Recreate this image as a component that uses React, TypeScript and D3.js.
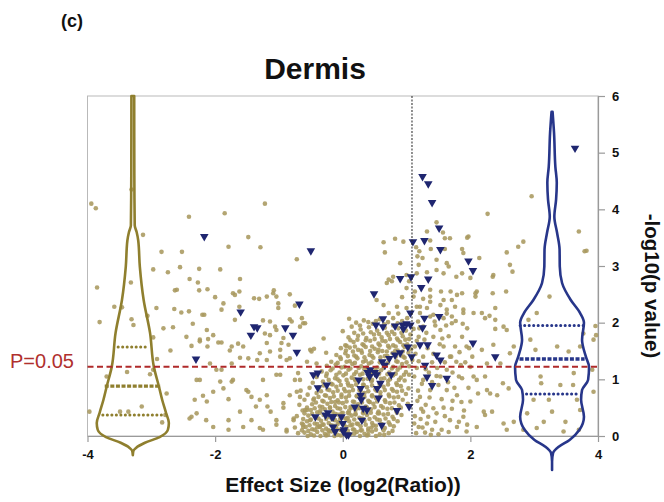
import React, { useRef, useEffect } from "react";
import * as d3 from "d3";

// axis ticks and reference lines
const X_TICKS = [-4, -2, 0, 2, 4];
const Y_TICKS = [0, 1, 2, 3, 4, 5, 6];
const P_LINE = 1.22; // -log10(0.05) as drawn
const FC_LINE = 1.085;

// non significant genes [log2 ratio, -log10 p]
const otherGenes: [number, number][] = [
  // sparse, left side
  [-3.94,4.10],[-3.87,4.02],[-3.31,4.35],[-3.13,3.55],[-2.84,3.25],[-2.52,3.25],[-2.41,3.87],[-1.85,3.93],[-1.22,4.10],
  [-1.48,3.51],[-1.79,3.34],[-1.29,3.33],[-0.72,3.12],[-2.97,2.94],[-2.74,2.89],[-2.55,2.98],[-2.25,2.95],[-1.92,2.94],
  [-2.40,2.77],[-1.61,2.77],[-3.85,2.62],[-3.32,2.71],[-2.63,2.57],[-3.58,2.28],[-3.46,2.27],[-3.81,2.01],[-3.31,2.06],
  [-3.28,1.96],[-3.06,2.12],[-2.92,2.26],[-2.64,2.24],[-2.81,1.90],[-2.66,1.92],[-2.97,1.74],[-2.70,1.51],[-2.91,1.36],
  [-3.38,1.13],[-3.02,1.09],[-3.70,1.05],[-2.76,0.75],[-3.97,0.43],[-3.15,0.52],[-2.78,0.37],[-2.83,0.24],[-3.49,0.43],
  [-3.36,0.43],[-2.60,2.58],[-2.53,2.18],[-2.97,1.17],[-2.25,2.57],[-2.20,2.14],[-2.35,1.98],[-2.24,1.70],[-2.13,1.87],
  [-1.95,1.65],[-1.90,1.17],[-2.29,0.99],[-2.19,0.71],[-2.37,0.34],[-2.29,0.40],[-1.72,2.52],[-1.62,2.28],[-1.69,2.05],
  [-1.74,1.58],[-1.61,1.38],[-1.72,0.99],[-1.51,0.81],[-1.79,0.65],[-1.36,0.52],[-2.03,0.16],[-1.56,0.16],[-1.30,0.14],
  [-1.09,2.52],[-1.01,2.34],[-0.83,2.06],[-1.06,1.93],[-0.93,1.73],[-0.98,1.52],[-1.19,1.34],[-0.88,1.34],[-1.25,0.99],
  [-1.04,1.08],[-1.19,0.72],[-0.93,0.58],[-1.04,0.28],[-0.88,0.08],[-0.67,0.99],[-0.72,0.78],[-0.56,0.46],[-0.64,0.22],
  [-0.77,0.28],[-0.62,1.99],[-0.51,1.52],[-0.41,1.28],
  [-2.27,2.71],[-2.12,2.59],[-2.00,2.45],[-1.87,2.34],[-1.69,2.49],[-1.62,2.55],[-1.39,2.43],[-1.31,2.42],[-1.19,2.46],
  [-1.08,2.57],[-1.04,2.46],[-1.01,2.26],[-0.83,2.50],[-0.75,2.30],[-2.41,2.20],[-2.17,2.14],[-1.90,2.23],[-1.25,2.04],
  [-1.14,2.02],[-0.80,2.02],[-0.64,2.08],[-0.59,1.99],
  [-2.45,1.75],[-2.03,1.78],[-2.11,1.71],[-2.24,1.67],[-1.90,1.65],[-2.37,1.59],[-2.12,1.58],[-1.77,1.51],[-1.64,1.63],
  [-1.56,1.58],[-1.22,1.81],[-1.14,1.78],[-1.04,1.87],[-1.19,1.64],[-0.96,1.64],[-0.85,1.61],[-0.67,1.93],[-1.30,1.46],
  [-1.14,1.49],[-1.48,1.37],[-1.34,1.34],[-0.98,1.40],[-0.83,1.37],[-1.98,1.17],[-2.08,1.28],[-1.74,1.28],[-2.24,0.99],
  [-1.92,0.96],[-1.74,0.96],[-1.48,0.78],[-1.43,0.69],[-2.03,0.78],[-1.87,0.84],[-2.32,0.64],[-2.13,0.61],[-1.30,0.64],
  [-1.18,0.52],[-1.61,0.43],[-2.40,0.31],[-2.14,0.28],[-1.79,0.28],[-1.43,0.28],[-1.13,0.43],[-1.04,0.20],[-0.93,0.50],
  [-0.83,0.72],[-0.75,0.99],[-0.70,1.11],[-0.98,1.08],[-0.56,1.31],[-0.49,1.49],[-0.67,0.69],[-0.59,0.46],[-0.77,0.31],
  [-0.62,0.16],[-0.88,0.11],[-1.79,0.11],[-1.25,0.11],[-0.46,0.64],[-0.51,0.28],[-0.36,0.16],
  // upper centre
  [0.64,3.42],[0.82,3.48],[0.95,3.43],[0.66,3.24],[1.15,3.33],[1.20,3.26],[1.25,3.14],[1.17,3.17],[1.32,3.61],[1.47,3.77],
  [1.57,3.59],[1.60,3.49],[1.68,3.49],[1.37,3.45],[1.38,3.30],[1.60,3.30],[1.47,3.11],[1.63,3.05],[1.66,2.99],[1.95,3.50],
  [1.87,3.30],[1.89,3.23],[0.90,3.05],[1.19,3.02],[1.32,2.89],[1.47,2.93],[1.58,2.87],[0.79,2.81],[0.72,2.76],[0.69,2.70],
  [0.77,2.73],[1.00,2.84],[1.16,2.87],[1.04,2.73],[1.00,2.61],[1.13,2.55],[1.37,2.58],[1.54,2.55],[1.69,2.55],[1.78,2.81],
  [1.87,2.87],[1.79,2.49],[2.00,2.79],[2.10,2.55],[2.08,2.46],[0.53,2.40],[0.64,2.31],[0.93,2.45],[1.11,2.46],[1.26,2.42],
  [1.37,2.37],[1.58,2.40],[0.85,2.28],[1.00,2.26],[1.16,2.28],[1.32,2.26],[1.53,2.31],[1.76,2.28],[1.89,2.23],[0.72,2.17],
  [0.87,2.16],[1.21,2.17],[1.42,2.14],[1.63,2.16],[2.05,2.17],[0.79,2.08],[1.58,2.08],[1.71,2.11],
  // right side
  [2.96,4.23],[2.27,3.92],[2.83,3.43],[2.75,3.34],[2.57,3.24],[2.62,3.02],[2.66,2.90],[3.70,3.61],[3.79,3.26],[3.82,3.27],
  [2.35,2.81],[2.14,3.14],[1.97,3.52],[2.36,2.84],[2.56,2.55],[2.35,2.52],[2.18,2.17],[2.23,2.08],[2.39,2.05],[2.39,1.89],
  [2.57,1.87],[2.36,1.61],[2.68,1.58],[2.62,1.46],[2.47,1.28],[2.26,1.28],[2.23,1.05],[2.51,0.93],[2.60,0.84],[2.31,0.75],
  [2.34,0.43],[2.23,0.37],[2.68,0.25],[2.57,0.11],[2.83,0.11],[2.91,2.05],[2.94,1.70],[3.02,1.52],[3.10,1.05],[3.11,0.93],
  [2.99,0.64],[3.23,0.64],[3.28,0.43],[2.89,0.40],[3.04,0.14],[3.46,0.08],[3.24,2.46],[3.36,1.58],[3.41,0.90],[3.62,1.11],
  [3.61,0.90],[3.54,1.49],[3.72,1.58],[3.77,1.81],[3.96,1.94],[3.67,0.64],[3.72,0.46],[3.49,0.25],[3.15,0.25],[3.70,0.11],
  [3.04,2.17],[3.93,0.78],[3.91,1.17],[3.93,1.70],[3.97,1.78],
  [2.08,2.52],[2.39,2.26],[2.52,1.93],[2.30,2.12],[1.89,2.17],[1.71,1.99],[1.87,1.75],[1.94,1.58],[2.18,1.52],[1.78,1.31],
  [2.00,1.22],[1.87,1.02],[2.10,0.99],[2.26,0.81],[2.42,0.72],[1.79,0.72],[2.00,0.61],[2.21,0.43],[1.89,0.34],[2.52,0.22],
  [2.10,0.16],[1.68,0.28],[1.55,0.11],[1.42,0.49],[1.32,0.22],[1.21,0.69],[1.37,0.81],[1.53,1.05],[1.63,1.17],[1.68,1.40],
  [1.58,1.58],[1.42,1.75],[1.53,1.87],[1.76,1.58],[1.63,0.81],[1.47,0.40],[1.26,0.43],[1.19,0.16],[1.40,0.11],[1.79,0.16],
  [1.94,0.08],[1.26,0.99],[1.16,1.20],[1.26,1.40],[1.13,1.58],[1.19,1.75],[1.26,1.93],[1.37,2.11],[1.63,2.23],[1.71,2.40],
  [1.87,2.52],[1.37,2.46],[1.21,2.28],
  [1.15,0.05],[1.22,0.30],[1.30,0.55],[1.18,0.80],[1.35,1.12],[1.14,1.45],[1.28,1.70],[1.45,1.95],[1.60,0.35],[1.72,0.62],
  [1.50,0.90],[1.85,1.25],[1.95,1.90],[1.66,1.76],[1.40,1.30],[1.25,0.15],[1.55,0.65],[1.90,0.45],[1.12,1.05],[1.33,1.55],
  [1.75,0.85],[1.48,1.20],[2.05,1.05],[1.82,0.25],[1.62,1.95],[1.20,1.90],[1.38,0.02],[2.12,0.75],[1.98,1.55],[1.70,1.40],
  [1.13,0.35],[1.17,0.62],[1.24,0.92],[1.19,1.32],[1.31,1.82],[1.44,2.02],[1.52,1.62],[1.36,0.68],[1.45,0.25],[1.58,0.50],
  [1.65,0.95],[1.72,1.12],[1.83,1.48],[1.92,1.30],[1.77,2.03],[1.29,0.06],[1.50,0.03],[1.66,0.07],[1.86,0.60],[1.97,0.85],
  [1.42,1.45],[1.56,1.72],[1.30,1.18],[1.16,1.68],[1.40,0.95],[1.12,0.22],[1.23,0.48],[1.34,0.34],[1.60,1.30],[1.47,1.06],
  [1.71,0.48],[1.82,1.05],[1.95,0.20],[2.03,1.40],[1.18,2.02],[1.88,1.98],
  // dense core
  [0.33,2.04],[0.47,1.98],[0.58,2.06],[0.71,2.01],[0.79,1.95],[0.93,2.03],[1.01,2.08],[0.21,2.00],[0.10,2.07],
  [0.28,1.88],[0.41,1.92],[0.54,1.86],[0.66,1.91],[0.77,1.84],[0.87,1.90],[0.99,1.86],[1.11,1.89],[0.14,1.93],[0.00,1.85],
  [0.24,1.77],[0.37,1.73],[0.49,1.79],[0.61,1.74],[0.72,1.78],[0.85,1.72],[0.94,1.76],[1.04,1.71],[0.09,1.74],[-0.30,1.72],
  [0.17,1.66],[0.31,1.62],[0.43,1.68],[0.56,1.63],[0.67,1.67],[0.79,1.60],[0.90,1.66],[1.01,1.62],[0.04,1.60],
  [0.11,1.56],[0.24,1.52],[0.36,1.57],[0.50,1.54],[0.62,1.50],[0.73,1.56],[0.86,1.51],[0.97,1.57],[1.07,1.53],[-0.03,1.55],[-0.45,1.54],
  [0.04,1.46],[0.18,1.42],[0.30,1.47],[0.42,1.43],[0.55,1.48],[0.66,1.41],[0.78,1.46],[0.91,1.42],[1.03,1.47],[-0.10,1.43],[-0.26,1.47],
  [-0.03,1.36],[0.11,1.32],[0.23,1.37],[0.36,1.33],[0.48,1.38],[0.60,1.31],[0.72,1.36],[0.84,1.32],[0.97,1.38],[1.09,1.34],[-0.18,1.31],
  [-0.11,1.26],[0.03,1.22],[0.15,1.27],[0.29,1.23],[0.41,1.28],[0.54,1.21],[0.67,1.26],[0.79,1.22],[0.93,1.27],[1.04,1.23],[-0.25,1.24],
  [-0.19,1.16],[-0.05,1.12],[0.09,1.17],[0.21,1.13],[0.34,1.18],[0.47,1.11],[0.60,1.16],[0.73,1.12],[0.86,1.17],[0.99,1.13],[-0.33,1.14],
  [-0.26,1.06],[-0.12,1.02],[0.01,1.07],[0.14,1.03],[0.27,1.08],[0.39,1.01],[0.53,1.06],[0.65,1.02],[0.79,1.07],[0.91,1.03],[1.04,1.08],[-0.41,1.04],
  [-0.31,0.96],[-0.18,0.92],[-0.05,0.97],[0.08,0.93],[0.20,0.98],[0.32,0.91],[0.45,0.96],[0.58,0.92],[0.71,0.97],[0.84,0.93],[0.97,0.98],[-0.47,0.94],
  [-0.37,0.86],[-0.24,0.82],[-0.10,0.87],[0.02,0.83],[0.14,0.88],[0.26,0.81],[0.38,0.86],[0.51,0.82],[0.64,0.87],[0.77,0.83],[0.91,0.88],[1.03,0.84],[-0.52,0.85],
  [-0.41,0.76],[-0.28,0.72],[-0.15,0.77],[-0.02,0.73],[0.10,0.78],[0.22,0.71],[0.34,0.76],[0.46,0.72],[0.59,0.77],[0.72,0.73],[0.85,0.78],[0.99,0.74],[-0.55,0.73],
  [-0.45,0.66],[-0.32,0.62],[-0.20,0.67],[-0.08,0.63],[0.05,0.68],[0.16,0.61],[0.28,0.66],[0.40,0.62],[0.52,0.67],[0.66,0.63],[0.80,0.68],[0.94,0.64],[-0.60,0.64],
  [-0.48,0.56],[-0.36,0.52],[-0.24,0.57],[-0.12,0.53],[0.00,0.58],[0.12,0.51],[0.24,0.56],[0.36,0.52],[0.48,0.57],[0.60,0.53],[0.74,0.58],[0.88,0.54],[1.02,0.57],
  [-0.50,0.46],[-0.40,0.42],[-0.28,0.47],[-0.16,0.43],[-0.04,0.48],[0.08,0.41],[0.20,0.46],[0.32,0.42],[0.44,0.47],[0.56,0.43],[0.70,0.48],[0.84,0.44],[-0.63,0.45],
  [-0.54,0.36],[-0.42,0.32],[-0.30,0.37],[-0.20,0.33],[-0.08,0.38],[0.04,0.31],[0.14,0.36],[0.26,0.32],[0.38,0.37],[0.50,0.33],[0.64,0.38],[0.78,0.34],[0.92,0.37],
  [-0.56,0.26],[-0.44,0.22],[-0.34,0.27],[-0.22,0.23],[-0.12,0.28],[0.00,0.21],[0.10,0.26],[0.22,0.22],[0.34,0.27],[0.46,0.23],[0.58,0.28],[0.72,0.24],[0.86,0.26],
  [-0.58,0.16],[-0.48,0.12],[-0.36,0.17],[-0.26,0.13],[-0.14,0.18],[-0.04,0.11],[0.06,0.16],[0.16,0.12],[0.28,0.17],[0.40,0.13],[0.52,0.18],[0.66,0.14],[0.80,0.17],
  [-0.60,0.06],[-0.50,0.03],[-0.40,0.07],[-0.28,0.04],[-0.18,0.08],[-0.08,0.02],[0.02,0.06],[0.12,0.03],[0.22,0.07],[0.34,0.04],[0.46,0.08],[0.58,0.03],[0.72,0.05],
  [-0.22,0.10],[-0.10,0.14],[0.03,0.09],[0.15,0.20],[-0.06,0.25],[0.08,0.32],[0.20,0.38],[-0.16,0.30],[0.30,0.10],[-0.32,0.20],[0.10,0.45],[-0.02,0.40],
  [0.25,0.50],[-0.12,0.60],[0.18,0.04],[-0.26,0.01],[0.40,0.02],[0.06,0.00],[-0.40,0.15],[0.32,0.30],[0.45,0.15],[0.55,0.40],[0.62,0.20],[0.42,0.60],
  [-0.35,0.45],[-0.20,0.50],
  // dense core, second pass
  [0.40,2.01],[0.52,2.03],[0.65,1.97],[0.86,1.99],[0.27,1.95],
  [0.32,1.81],[0.44,1.83],[0.57,1.80],[0.69,1.82],[0.81,1.80],[0.92,1.82],[1.06,1.79],[0.18,1.82],
  [0.23,1.70],[0.36,1.69],[0.50,1.71],[0.62,1.68],[0.74,1.71],[0.87,1.69],[0.98,1.70],[0.12,1.69],
  [0.06,1.59],[0.19,1.58],[0.33,1.60],[0.46,1.58],[0.58,1.60],[0.71,1.59],[0.83,1.58],[0.95,1.60],
  [0.05,1.51],[0.16,1.49],[0.29,1.51],[0.43,1.50],[0.56,1.52],[0.69,1.49],[0.82,1.50],[0.94,1.49],
  [-0.04,1.39],[0.08,1.41],[0.21,1.40],[0.34,1.39],[0.46,1.41],[0.59,1.39],[0.70,1.41],[0.83,1.40],[0.95,1.40],
  [-0.08,1.29],[0.06,1.31],[0.19,1.29],[0.32,1.31],[0.45,1.30],[0.58,1.30],[0.71,1.29],[0.86,1.31],[1.00,1.30],
  [-0.16,1.19],[-0.02,1.21],[0.12,1.19],[0.25,1.20],[0.38,1.21],[0.51,1.19],[0.64,1.20],[0.77,1.19],[0.90,1.21],
  [-0.25,1.10],[-0.10,1.08],[0.05,1.10],[0.18,1.09],[0.31,1.10],[0.44,1.08],[0.57,1.10],[0.70,1.09],[0.83,1.10],[0.96,1.08],
  [-0.22,0.99],[-0.08,1.00],[0.06,0.99],[0.19,1.00],[0.32,1.00],[0.46,0.99],[0.60,1.01],[0.74,1.00],[0.88,0.99],
  [-0.30,0.89],[-0.16,0.91],[-0.03,0.90],[0.09,0.89],[0.21,0.91],[0.33,0.90],[0.46,0.89],[0.58,0.90],[0.71,0.91],[0.85,0.90],
  [-0.34,0.79],[-0.21,0.81],[-0.08,0.80],[0.04,0.79],[0.16,0.81],[0.28,0.80],[0.40,0.79],[0.53,0.80],[0.66,0.81],[0.79,0.80],[0.93,0.80],
  [-0.38,0.69],[-0.26,0.71],[-0.14,0.70],[-0.02,0.69],[0.10,0.71],[0.22,0.70],[0.34,0.69],[0.46,0.70],[0.59,0.71],[0.73,0.70],[0.87,0.69],
  [-0.42,0.59],[-0.30,0.61],[-0.18,0.60],[-0.06,0.59],[0.06,0.61],[0.18,0.60],[0.30,0.59],[0.42,0.60],[0.54,0.61],[0.67,0.60],[0.81,0.59],
  [-0.56,0.50],[-0.44,0.49],[-0.32,0.51],[-0.20,0.50],[-0.08,0.49],[0.04,0.51],[0.14,0.50],[0.26,0.49],[0.38,0.50],[0.50,0.51],[0.63,0.50],[0.77,0.49],[0.91,0.50],
  [-0.60,0.40],[-0.48,0.39],[-0.36,0.41],[-0.24,0.40],[-0.12,0.39],[0.00,0.41],[0.10,0.40],[0.20,0.39],[0.32,0.40],[0.44,0.41],[0.57,0.40],[0.71,0.39],[0.85,0.41],
  [-0.62,0.30],[-0.50,0.29],[-0.38,0.31],[-0.26,0.30],[-0.16,0.29],[-0.04,0.31],[0.06,0.30],[0.18,0.29],[0.30,0.31],[0.42,0.30],[0.54,0.29],[0.67,0.31],[0.80,0.30],
  [-0.62,0.20],[-0.52,0.19],[-0.40,0.21],[-0.30,0.20],[-0.18,0.19],[-0.08,0.21],[0.02,0.20],[0.12,0.19],[0.24,0.21],[0.36,0.20],[0.48,0.19],[0.60,0.21],[0.74,0.20],
  [-0.64,0.10],[-0.54,0.09],[-0.44,0.11],[-0.32,0.10],[-0.22,0.09],[-0.12,0.11],[-0.02,0.10],[0.08,0.09],[0.18,0.11],[0.28,0.10],[0.40,0.09],[0.52,0.11],[0.64,0.10],[0.78,0.09],
  [-0.55,0.00],[-0.45,0.01],[-0.35,0.00],[-0.23,0.02],[-0.13,0.00],[-0.03,0.01],[0.07,0.03],[0.27,0.00],[0.38,0.01],[0.52,0.00],[0.65,0.02],
  [-0.70,0.05],[-0.72,0.35],[-0.68,0.55],[-0.75,0.15],[-0.66,0.80],
];

// significant genes (triangles)
const sigGenes: [number, number][] = [
  [-2.17,3.52],[-0.50,3.27],[1.25,4.58],[1.34,4.45],[1.40,4.12],[1.51,3.67],[1.10,3.43],[1.28,3.45],[1.53,3.29],[1.97,3.09],
  [2.04,2.92],[3.64,5.08],[0.90,2.78],[1.07,2.81],[1.34,2.77],[1.23,2.62],[0.49,2.51],[1.06,2.17],[1.28,2.08],[1.51,2.11],
  [0.63,2.07],[-0.68,2.33],[-1.60,2.19],[-1.39,1.93],[-1.34,1.91],[-0.90,1.91],[-1.44,1.78],[-0.78,1.78],[-0.72,1.48],[-2.30,1.36],
  [-0.46,1.08],[-0.39,1.11],[-0.39,0.85],[-0.25,0.90],[-0.43,0.34],[-0.27,0.37],[-0.23,0.41],[0.52,1.96],[0.63,1.93],[0.82,1.94],
  [0.94,1.96],[1.00,1.98],[1.06,1.96],[0.95,1.89],[1.25,1.91],[1.21,1.61],[1.33,1.61],[2.04,1.64],[1.47,1.43],[1.53,1.34],
  [1.02,1.57],[1.08,1.40],[0.90,1.47],[0.82,1.43],[0.73,1.37],[0.62,1.31],[0.66,1.25],[1.29,1.25],[0.43,1.17],[0.50,1.12],
  [0.39,1.12],[0.53,1.08],[0.76,1.08],[0.42,1.05],[1.32,1.04],[1.63,1.02],[0.25,0.99],[0.59,0.93],[1.40,0.89],[0.28,0.84],
  [0.54,0.84],[0.28,0.72],[0.29,0.64],[0.56,0.67],[0.32,0.49],[0.38,0.46],[0.19,0.51],[0.85,0.45],[1.04,0.52],[0.30,0.28],
  [0.61,0.19],[-0.15,0.34],[-0.02,0.34],[-0.12,0.08],[0.01,0.08],[0.06,0.02],[0.00,0.22],[-0.17,0.34],[0.02,0.11],[0.09,0.02],
  [-0.15,0.16],[2.39,1.40],
];

// violin outlines: [-log10 p, half width in log2 units]
const LEFT_CENTER = -3.29;
const leftProfile: [number, number][] = [
  [6.0,0.022],[4.6,0.024],[3.72,0.03],[3.6,0.06],[3.45,0.085],[2.99,0.11],[2.40,0.17],[1.82,0.27],[1.22,0.33],[0.87,0.41],
  [0.64,0.46],[0.41,0.52],[0.23,0.565],[0.11,0.55],[-0.02,0.42],[-0.12,0.19],[-0.21,0.05],[-0.26,0.01],[-0.34,0.0],
];
const leftQuartiles: [number, number][] = [[1.57,0.23],[0.88,0.44],[0.37,0.47]];

const RIGHT_CENTER = 3.28;
const rightProfile: [number, number][] = [
  [5.72,0.008],[5.35,0.031],[4.75,0.052],[4.47,0.074],[4.17,0.063],[3.87,0.036],[3.59,0.078],[3.29,0.118],[2.99,0.121],
  [2.70,0.157],[2.40,0.293],[2.17,0.44],[2.00,0.50],[1.70,0.47],[1.40,0.53],[1.22,0.58],[0.99,0.565],[0.81,0.47],
  [0.64,0.455],[0.34,0.50],[0.11,0.43],[-0.07,0.275],[-0.19,0.105],[-0.30,0.016],[-0.45,0.0],[-0.60,0.0],
];
const rightQuartiles: [number, number][] = [[1.95,0.50],[1.36,0.51],[0.74,0.40]];

const FONT = "'Liberation Sans', Arial, Helvetica, sans-serif";

function App() {
  const svgRef = useRef<SVGSVGElement>(null);

  useEffect(() => {
    const svg = d3.select(svgRef.current);
    svg.selectAll("*").remove();

    const x = d3.scaleLinear().domain([-4, 4]).range([87.5, 598]);
    const y = d3.scaleLinear().domain([0, 6]).range([436, 96]);

    svg.append("rect").attr("width", 664).attr("height", 502).attr("fill", "#fff");

    // frame
    svg.append("rect")
      .attr("x", x(-4)).attr("y", y(6))
      .attr("width", x(4) - x(-4)).attr("height", y(0) - y(6))
      .attr("fill", "none").attr("stroke", "#b9b9b9").attr("stroke-width", 1);

    const xAxis = d3.axisBottom(x).tickValues(X_TICKS).tickSizeInner(6).tickSizeOuter(0).tickPadding(8)
      .tickFormat((d) => String(d));
    const gx = svg.append("g").attr("transform", `translate(0,${y(0)})`).call(xAxis);

    const yAxis = d3.axisRight(y).tickValues(Y_TICKS).tickSizeInner(7).tickSizeOuter(0).tickPadding(7)
      .tickFormat((d) => String(d));
    const gy = svg.append("g").attr("transform", `translate(${x(4)},0)`).call(yAxis);

    [gx, gy].forEach((g) => {
      g.selectAll("path, line").attr("stroke", "#9a9a9a").attr("stroke-width", 1.2);
      g.selectAll("text").attr("font-family", FONT).attr("font-size", 13).attr("font-weight", "bold").attr("fill", "#111");
    });

    // points
    svg.append("g").selectAll("circle").data(otherGenes).join("circle")
      .attr("cx", (d) => x(d[0])).attr("cy", (d) => y(d[1])).attr("r", 2.3)
      .attr("fill", "#a8995e").attr("fill-opacity", 0.88);

    const tri = d3.symbol().type(d3.symbolTriangle).size(32);
    svg.append("g").selectAll("path").data(sigGenes).join("path")
      .attr("d", tri)
      .attr("transform", (d) => `translate(${x(d[0])},${y(d[1])}) rotate(180)`)
      .attr("fill", "#1f2670");

    // violins
    const drawViolin = (center: number, profile: [number, number][], quart: [number, number][], color: string) => {
      const area = d3.area<[number, number]>()
        .y((d) => y(d[0]))
        .x0((d) => x(center - d[1]))
        .x1((d) => x(center + d[1]))
        .curve(d3.curveMonotoneY);
      svg.append("path").attr("d", area(profile))
        .attr("fill", "none").attr("stroke", color).attr("stroke-width", 2.6)
        .attr("stroke-linejoin", "round");
      quart.forEach((q, i) => {
        svg.append("line")
          .attr("x1", x(center - q[1])).attr("x2", x(center + q[1]))
          .attr("y1", y(q[0])).attr("y2", y(q[0]))
          .attr("stroke", color).attr("stroke-width", i === 1 ? 3.4 : 3)
          .attr("stroke-linecap", i === 1 ? "butt" : "round")
          .attr("stroke-dasharray", i === 1 ? "4 1.6" : "0.1 4.4");
      });
    };
    drawViolin(LEFT_CENTER, leftProfile, leftQuartiles, "#8f7f2e");
    drawViolin(RIGHT_CENTER, rightProfile, rightQuartiles, "#27368a");

    // threshold lines
    svg.append("line")
      .attr("x1", x(FC_LINE)).attr("x2", x(FC_LINE)).attr("y1", y(6)).attr("y2", y(0))
      .attr("stroke", "#222").attr("stroke-width", 1).attr("stroke-dasharray", "2 1.5");
    svg.append("line")
      .attr("x1", x(-4)).attr("x2", x(4) + 2).attr("y1", y(P_LINE)).attr("y2", y(P_LINE))
      .attr("stroke", "#b02a2a").attr("stroke-width", 2).attr("stroke-dasharray", "6 3.5");

    // text
    svg.append("text").attr("x", 10).attr("y", y(P_LINE) + 1).text("P=0.05")
      .attr("font-family", FONT).attr("font-size", 20).attr("fill", "#b0302e");
    svg.append("text").attr("x", 61).attr("y", 27).text("(c)")
      .attr("font-family", FONT).attr("font-size", 18).attr("font-weight", "bold").attr("fill", "#111");
    svg.append("text").attr("x", 315).attr("y", 79).attr("text-anchor", "middle").text("Dermis")
      .attr("font-family", FONT).attr("font-size", 30).attr("font-weight", "bold").attr("fill", "#111");
    svg.append("text").attr("x", 343).attr("y", 492).attr("text-anchor", "middle").text("Effect Size (log2(Ratio))")
      .attr("font-family", FONT).attr("font-size", 21).attr("font-weight", "bold").attr("fill", "#111");
    svg.append("text").attr("transform", "translate(645,286) rotate(90)").attr("text-anchor", "middle")
      .text("-log10(p value)")
      .attr("font-family", FONT).attr("font-size", 20.5).attr("font-weight", "bold").attr("fill", "#111");
  }, []);

  return (
    <svg ref={svgRef} width={664} height={502}
      style={{ position: "absolute", left: 0, top: 0, display: "block" }} />
  );
}

export default App;
